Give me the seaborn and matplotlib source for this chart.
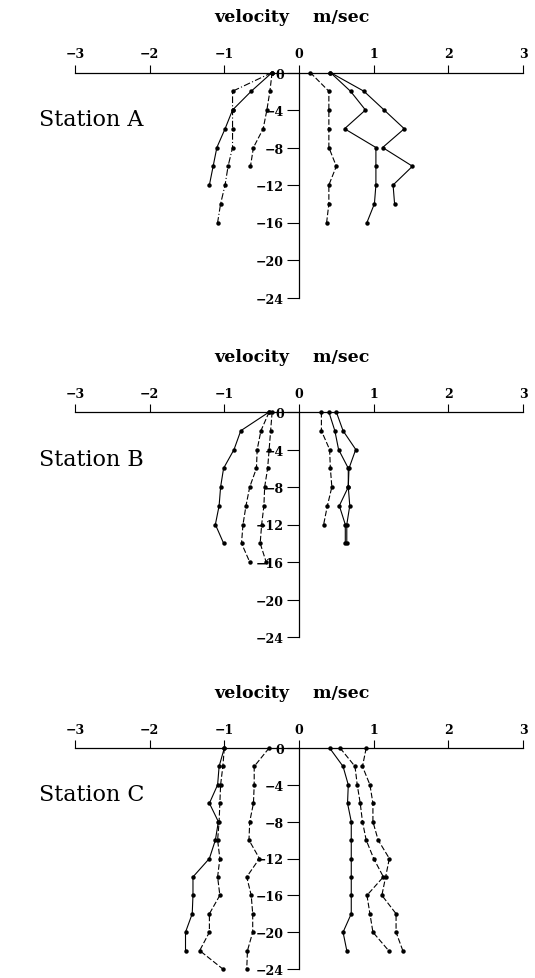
import numpy as np
import pandas as pd
import matplotlib.pyplot as plt
import seaborn as sns

# depth grid (m) and axis ticks
depths = [0, -2, -4, -6, -8, -10, -12, -14, -16, -18, -20, -22, -24]
x_ticks = [-3, -2, -1, 0, 1, 2, 3]
y_ticks = [0, -4, -8, -12, -16, -20, -24]
stations = ['Station A', 'Station B', 'Station C']

# velocity profiles (m/sec), read from top (0 m) downwards every 2 m
station_a = [
    [-0.36, -0.89, -0.89, -0.89, -0.89, -0.95, -0.99, -1.05, -1.09],
    [-0.36, -0.64, -0.89, -0.99, -1.10, -1.15, -1.20],
    [-0.36, -0.39, -0.43, -0.48, -0.61, -0.65],
    [0.15, 0.40, 0.40, 0.40, 0.40, 0.50, 0.40, 0.40, 0.37],
    [0.42, 0.69, 0.89, 0.61, 1.03, 1.03, 1.03, 1.01, 0.91],
    [0.42, 0.87, 1.14, 1.41, 1.12, 1.52, 1.26, 1.28],
]
station_b = [
    [-0.40, -0.78, -0.87, -1.01, -1.05, -1.07, -1.12, -1.01],
    [-0.40, -0.51, -0.56, -0.57, -0.66, -0.71, -0.75, -0.77, -0.66],
    [-0.36, -0.38, -0.40, -0.42, -0.46, -0.47, -0.50, -0.52, -0.44],
    [0.30, 0.30, 0.41, 0.42, 0.44, 0.38, 0.33],
    [0.40, 0.48, 0.53, 0.66, 0.66, 0.54, 0.62, 0.62],
    [0.50, 0.59, 0.76, 0.67, 0.66, 0.68, 0.64, 0.64],
]
station_c = [
    [-1.00, -1.07, -1.09, -1.20, -1.08, -1.12, -1.20, -1.42, -1.42, -1.43, -1.52, -1.52],
    [-1.00, -1.02, -1.05, -1.06, -1.07, -1.09, -1.06, -1.09, -1.06, -1.20, -1.20, -1.33, -1.02],
    [-0.40, -0.60, -0.60, -0.61, -0.66, -0.67, -0.53, -0.70, -0.64, -0.62, -0.62, -0.69, -0.70],
    [0.41, 0.59, 0.66, 0.65, 0.70, 0.70, 0.70, 0.70, 0.70, 0.70, 0.59, 0.64],
    [0.55, 0.75, 0.78, 0.82, 0.85, 0.90, 1.00, 1.13, 0.91, 0.95, 0.99, 1.20],
    [0.90, 0.85, 0.95, 0.99, 0.99, 1.06, 1.21, 1.16, 1.11, 1.30, 1.30, 1.39],
]

dash = (0, (5, 2))
dashdot = (0, (6, 2, 1, 2))
line_styles = [
    [dashdot, '-', dash, dash, '-', '-'],
    ['-', dash, dash, dash, '-', '-'],
    ['-', dash, dash, '-', dash, dash],
]

rows = []
for name, profiles in zip(stations, [station_a, station_b, station_c]):
    for k, vel in enumerate(profiles):
        for d, v in zip(depths, vel):
            rows.append((name, k, d, v))
df = pd.DataFrame(rows, columns=['station', 'profile', 'depth', 'velocity'])

sns.set_style('ticks')
plt.rcParams['font.family'] = ['DejaVu Serif']
plt.rcParams['font.weight'] = 'bold'
plt.rcParams['text.color'] = 'black'

W, H = 535, 979
fig = plt.figure(figsize=(W / 100, H / 100), dpi=100)
tops = [73.5, 413, 749]     # pixel row of depth 0 for each panel
spans = [225, 225, 221]     # pixel height of 24 m

for i, name in enumerate(stations):
    top, span = tops[i], spans[i]
    ax = fig.add_axes([75 / W, 1 - (top + span) / H, 448 / W, span / H])
    sub = df[df['station'] == name]
    for k, g in sub.groupby('profile'):
        sns.lineplot(data=g, x='velocity', y='depth', estimator=None, sort=False,
                     color='black', lw=0.8, linestyle=line_styles[i][k],
                     marker='o', markersize=3.2, markeredgewidth=0, ax=ax)
    for ln in ax.lines:
        ln.set_clip_on(False)

    ax.set_xlim(-3, 3)
    ax.set_ylim(-24, 0)
    ax.set_xlabel('')
    ax.set_ylabel('')
    ax.xaxis.tick_top()
    ax.set_xticks(x_ticks)
    ax.set_yticks(y_ticks)
    ax.spines['left'].set_position(('data', 0))
    ax.spines['left'].set_bounds(-24, 0)
    ax.spines['right'].set_visible(False)
    ax.spines['bottom'].set_visible(False)
    for s in ['left', 'top']:
        ax.spines[s].set_color('black')
        ax.spines[s].set_linewidth(0.9)
    ax.tick_params(axis='x', direction='out', length=6, width=0.8, pad=3,
                   labelsize=9, colors='black')
    ax.tick_params(axis='y', direction='out', length=9, width=0.8, pad=2,
                   labelsize=9, colors='black')
    ax.patch.set_alpha(0)

    ax.annotate('velocity    m/sec', xy=(-0.1, 0), xytext=(0, 40),
                textcoords='offset points', ha='center', va='center',
                fontsize=12.5, color='black', annotation_clip=False)
    ax.text(-3.48, -5, name, ha='left', va='center', fontsize=16,
            fontweight='normal', color='black', clip_on=False)

fig.savefig('out.png', dpi=100, facecolor='white')
